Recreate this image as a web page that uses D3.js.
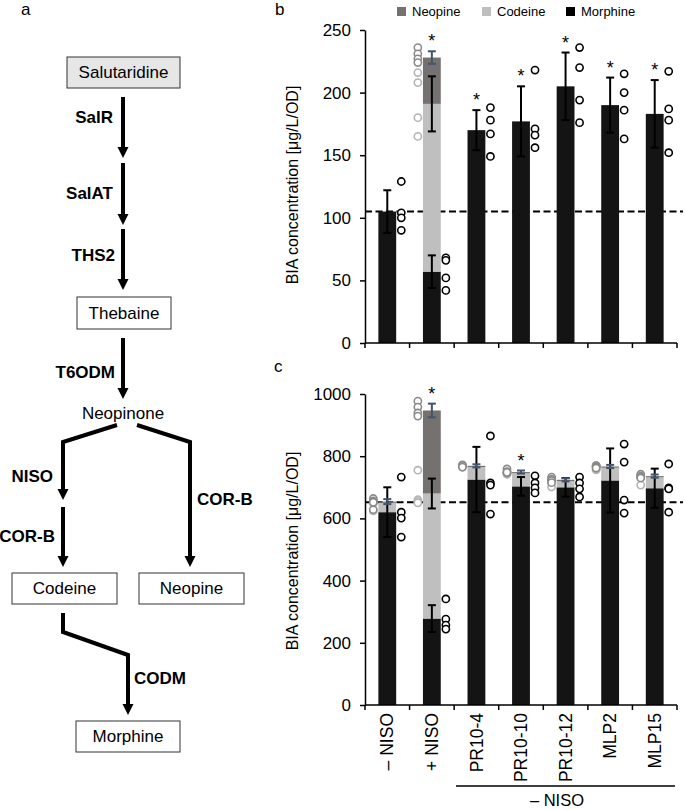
<!DOCTYPE html>
<html><head><meta charset="utf-8">
<script src="https://cdn.jsdelivr.net/npm/d3@7"></script>
<style>
html,body{margin:0;padding:0;background:#fff;}
svg{display:block;font-family:"Liberation Sans",Arial,sans-serif;}
</style></head>
<body><svg id="fig" width="685" height="810"></svg>
<script>
// ---------- data ----------
const categories = ["– NISO", "+ NISO", "PR10-4", "PR10-10", "PR10-12", "MLP2", "MLP15"];
const seriesNames = ["Neopine", "Codeine", "Morphine"];

// panel b
const bMorphine = [105, 57, 170, 177, 205, 190, 183];
const bCodeine  = [0, 134, 0, 0, 0, 0, 0];
const bNeopine  = [0, 37, 0, 0, 0, 0, 0];
const bMorphineSE = [17, 13, 16, 28, 27, 22, 27];
const bCodeineSE  = [0, 22, 0, 0, 0, 0, 0];
const bNeopineSE  = [0, 5, 0, 0, 0, 0, 0];
const bStar = [false, true, true, true, true, true, true];
const bMorphinePts = [[129,104,100,90],[68,66,52,42],[188,178,167,149],[218,171,166,156],[236,220,194,176],[215,200,186,163],[217,187,178,152]];
const bCodeinePts  = [[],[216,208,180,165],[],[],[],[],[]];
const bNeopinePts  = [[],[236,231,227,224],[],[],[],[],[]];
const bTicks = [0, 50, 100, 150, 200, 250];
const bBaseline = 105;

// panel c
const cMorphine = [620, 278, 725, 703, 700, 722, 697];
const cCodeine  = [30, 402, 40, 42, 20, 41, 35];
const cNeopine  = [4, 267, 4, 4, 4, 4, 4];
const cMorphineSE = [80, 43, 105, 30, 30, 103, 63];
const cCodeineSE  = [0, 48, 0, 0, 0, 0, 0];
const cNeopineSE  = [8, 22, 5, 5, 5, 5, 5];
const cStar = [false, true, false, true, false, false, false];
const cMorphinePts = [[733,620,601,540],[341,276,257,244],[865,714,707,614],[737,714,698,682],[733,714,695,669],[839,781,659,617],[775,698,695,620]];
const cCodeinePts  = [[660,652,648,624],[755,660,655,650],[768,765,766,770],[750,746,744,742],[717,701,725,720],[768,756,770,760],[740,733,707,735]];
const cNeopinePts  = [[664,656,652,628],[977,958,939,929],[772,768,770,765],[759,750,746,748],[733,726,722,715],[770,768,765,762],[742,736,733,730]];
const cTicks = [0, 200, 400, 600, 800, 1000];
const cBaseline = 652;

// ---------- style ----------
const FONT = 16;
const colMorphine = "#141414", colCodeine = "#bfbfbf", colNeopine = "#767171";
const colNavy = "#44546a";
const ptCodeine = "#b4b4b4", ptNeopine = "#8a8a8a";

const svg = d3.select("#fig");

// ---------- panel labels ----------
svg.append("text").attr("x", 21).attr("y", 15).attr("font-size", 17).text("a");
svg.append("text").attr("x", 275).attr("y", 15).attr("font-size", 17).text("b");
svg.append("text").attr("x", 274).attr("y", 372).attr("font-size", 17).text("c");

// ---------- legend ----------
const legendColors = [colNeopine, colCodeine, "#000"];
const legendX = [397, 482, 566];
seriesNames.forEach((n, i) => {
  svg.append("rect").attr("x", legendX[i]).attr("y", 7).attr("width", 9).attr("height", 9).attr("fill", legendColors[i]);
  svg.append("text").attr("x", legendX[i] + 15).attr("y", 16).attr("font-size", 13).text(n);
});

// ---------- chart panels ----------
const xLeft = 365, xRight = 677;
const x = d3.scaleBand().domain(categories).range([xLeft, xRight]).paddingInner(0.6).paddingOuter(0.3);

function panel(cfg) {
  const y = d3.scaleLinear().domain(cfg.domain).range(cfg.range);
  const g = svg.append("g");
  // baseline dashed line (behind bars)
  g.append("line").attr("x1", xLeft).attr("x2", 683)
    .attr("y1", y(cfg.baseline)).attr("y2", y(cfg.baseline))
    .attr("stroke", "#000").attr("stroke-width", 2).attr("stroke-dasharray", "7,3.5");

  // stacked bars
  const stackData = categories.map((c, i) => ({cat: c, Morphine: cfg.morphine[i], Codeine: cfg.codeine[i], Neopine: cfg.neopine[i]}));
  const stack = d3.stack().keys(["Morphine", "Codeine", "Neopine"])(stackData);
  const colors = {Morphine: colMorphine, Codeine: colCodeine, Neopine: colNeopine};
  stack.forEach(layer => {
    g.selectAll(null).data(layer).enter().append("rect")
      .attr("x", d => x(d.data.cat))
      .attr("width", x.bandwidth())
      .attr("y", d => y(d[1]))
      .attr("height", d => Math.max(0, y(d[0]) - y(d[1])))
      .attr("fill", colors[layer.key]);
  });

  // error bars
  function errBar(cx, v, se, color) {
    if (!se) return;
    const cap = 4;
    g.append("line").attr("x1", cx).attr("x2", cx).attr("y1", y(v - se)).attr("y2", y(v + se)).attr("stroke", color).attr("stroke-width", 2);
    [v - se, v + se].forEach(e => g.append("line").attr("x1", cx - cap).attr("x2", cx + cap).attr("y1", y(e)).attr("y2", y(e)).attr("stroke", color).attr("stroke-width", 2));
  }
  categories.forEach((c, i) => {
    const cx = x(c) + x.bandwidth() / 2;
    const m = cfg.morphine[i], cd = m + cfg.codeine[i], tot = cd + cfg.neopine[i];
    errBar(cx, m, cfg.morphineSE[i], "#000");
    errBar(cx, cd, cfg.codeineSE[i], "#000");
    errBar(cx, tot, cfg.neopineSE[i], colNavy);
    if (cfg.star[i]) {
      const top = Math.max(m + cfg.morphineSE[i], cfg.codeineSE[i] ? cd + cfg.codeineSE[i] : 0, cfg.neopineSE[i] ? tot + cfg.neopineSE[i] : 0);
      g.append("text").attr("x", cx).attr("y", y(top) - 4).attr("text-anchor", "middle")
        .attr("font-size", 18).attr("fill", "#000").text("*");
    }
  });

  // data points
  function pts(arr, dx, color) {
    arr.forEach((vals, i) => {
      const cx = x(categories[i]) + x.bandwidth() / 2 + dx;
      vals.forEach(v => g.append("circle").attr("cx", cx).attr("cy", y(v)).attr("r", 3.6)
        .attr("fill", "#fff").attr("stroke", color).attr("stroke-width", 1.6));
    });
  }
  pts(cfg.codeinePts, -14, ptCodeine);
  pts(cfg.neopinePts, -14, ptNeopine);
  pts(cfg.morphinePts, 14, "#000");

  // y axis
  const ax = g.append("g").attr("transform", `translate(${xLeft},0)`)
    .call(d3.axisLeft(y).tickValues(cfg.ticks).tickFormat(d3.format("d")).tickSize(5).tickPadding(9).tickSizeOuter(0));
  ax.select(".domain").attr("stroke-width", 1.5);
  ax.selectAll(".tick line").attr("stroke-width", 1.5);
  ax.selectAll(".tick text").attr("font-size", 17).attr("font-family", "Liberation Sans, Arial, sans-serif").attr("fill", "#000");

  // x axis line + boundary ticks
  const y0 = y(0);
  g.append("line").attr("x1", xLeft).attr("x2", xRight).attr("y1", y0).attr("y2", y0).attr("stroke", "#000").attr("stroke-width", 1.5);
  d3.range(categories.length + 1).forEach(k => {
    const tx = xLeft + k * x.step();
    g.append("line").attr("x1", tx).attr("x2", tx).attr("y1", y0).attr("y2", y0 + 5).attr("stroke", "#000").attr("stroke-width", 1.5);
  });

  // y label
  g.append("text").attr("transform", `translate(298,${cfg.labelY}) rotate(-90)`)
    .attr("text-anchor", "middle").attr("font-size", FONT).text("BIA concentration [μg/L/OD]");
  return y;
}

panel({domain: [0, 250], range: [343, 30], baseline: bBaseline, ticks: bTicks, labelY: 185,
  morphine: bMorphine, codeine: bCodeine, neopine: bNeopine,
  morphineSE: bMorphineSE, codeineSE: bCodeineSE, neopineSE: bNeopineSE, star: bStar,
  morphinePts: bMorphinePts, codeinePts: bCodeinePts, neopinePts: bNeopinePts});

const yc = panel({domain: [0, 1000], range: [705, 394], baseline: cBaseline, ticks: cTicks, labelY: 551,
  morphine: cMorphine, codeine: cCodeine, neopine: cNeopine,
  morphineSE: cMorphineSE, codeineSE: cCodeineSE, neopineSE: cNeopineSE, star: cStar,
  morphinePts: cMorphinePts, codeinePts: cCodeinePts, neopinePts: cNeopinePts});

// x category labels (rotated)
categories.forEach(c => {
  const cx = x(c) + x.bandwidth() / 2;
  svg.append("text").attr("transform", `translate(${cx},713) rotate(-90)`)
    .attr("text-anchor", "end").attr("dy", "0.35em").attr("font-size", 17.5).text(c);
});
// group bracket
svg.append("line").attr("x1", 456).attr("x2", 675).attr("y1", 786).attr("y2", 786).attr("stroke", "#000").attr("stroke-width", 1.5);
svg.append("text").attr("x", 557).attr("y", 806).attr("text-anchor", "middle").attr("font-size", 16.5).text("– NISO");

// ---------- panel a: pathway ----------
const DFONT = 17;
const boxes = [
  {t: "Salutaridine", x: 67, y: 57, w: 113, h: 31, fill: "#e7e6e6"},
  {t: "Thebaine", x: 77, y: 297, w: 94, h: 32, fill: "#fff"},
  {t: "Codeine", x: 12, y: 573, w: 105, h: 31, fill: "#fff"},
  {t: "Neopine", x: 139, y: 573, w: 105, h: 31, fill: "#fff"},
  {t: "Morphine", x: 76, y: 721, w: 104, h: 31, fill: "#fff"}
];
boxes.forEach(b => {
  svg.append("rect").attr("x", b.x).attr("y", b.y).attr("width", b.w).attr("height", b.h)
    .attr("fill", b.fill).attr("stroke", "#333").attr("stroke-width", 1);
  svg.append("text").attr("x", b.x + b.w / 2).attr("y", b.y + b.h / 2).attr("dy", "0.35em")
    .attr("text-anchor", "middle").attr("font-size", DFONT).text(b.t);
});
svg.append("text").attr("x", 123).attr("y", 413).attr("dy", "0.35em").attr("text-anchor", "middle").attr("font-size", DFONT).text("Neopinone");

function arrow(points) {
  const last = points[points.length - 1];
  const pts = points.slice(0, -1).concat([[last[0], last[1] - 10]]);
  svg.append("path").attr("d", d3.line()(pts)).attr("fill", "none").attr("stroke", "#000").attr("stroke-width", 4).attr("stroke-linejoin", "miter");
  svg.append("path").attr("d", `M${last[0] - 5.5},${last[1] - 11}L${last[0] + 5.5},${last[1] - 11}L${last[0]},${last[1]}Z`).attr("fill", "#000");
}
arrow([[123, 97], [123, 158]]);
arrow([[123, 163], [123, 225]]);
arrow([[123, 229], [123, 290]]);
arrow([[123, 338], [123, 399]]);
arrow([[117, 425], [63, 442], [63, 500]]);
arrow([[63, 507], [63, 567]]);
arrow([[137, 425], [190, 442], [190, 567]]);
arrow([[63, 613], [63, 632], [128, 655], [128, 715]]);

const enzymes = [
  {t: "SalR", x: 113, y: 117, a: "end"},
  {t: "SalAT", x: 113, y: 193, a: "end"},
  {t: "THS2", x: 115, y: 255, a: "end"},
  {t: "T6ODM", x: 115, y: 372, a: "end"},
  {t: "NISO", x: 53, y: 476, a: "end"},
  {t: "COR-B", x: 55, y: 536, a: "end"},
  {t: "COR-B", x: 197, y: 499, a: "start"},
  {t: "CODM", x: 134, y: 678, a: "start"}
];
enzymes.forEach(e => svg.append("text").attr("x", e.x).attr("y", e.y).attr("dy", "0.35em")
  .attr("text-anchor", e.a).attr("font-size", DFONT).attr("font-weight", "bold").text(e.t));
</script>
</body></html>
